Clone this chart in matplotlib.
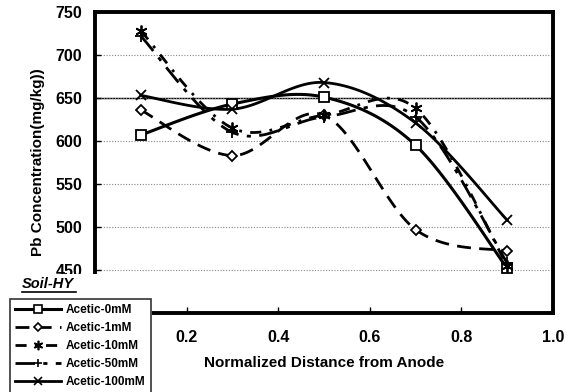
import numpy as np
import matplotlib
matplotlib.use("Agg")
import matplotlib.pyplot as plt
from matplotlib.patches import Rectangle
from matplotlib.lines import Line2D

plt.rcParams['font.family'] = ['Liberation Sans', 'DejaVu Sans']
plt.rcParams['font.weight'] = 'bold'

# data
distance = [0.1, 0.3, 0.5, 0.7, 0.9]
acetic_0mM = [607, 643, 651, 595, 452]
acetic_1mM = [636, 583, 630, 497, 472]
acetic_10mM = [728, 615, 630, 638, 455]
acetic_50mM = [722, 610, 628, 628, 458]
acetic_100mM = [653, 637, 668, 621, 508]
series_names = ['Acetic-0mM', 'Acetic-1mM', 'Acetic-10mM', 'Acetic-50mM', 'Acetic-100mM']
y_ticks = [450, 500, 550, 600, 650, 700, 750]
x_ticks = [0.2, 0.4, 0.6, 0.8, 1.0]


def smooth(x, y, n=30):
    # Catmull-Rom style smoothing, like Excel's smoothed lines
    x = np.asarray(x, float)
    y = np.asarray(y, float)
    px = np.concatenate([[x[0]], x, [x[-1]]])
    py = np.concatenate([[y[0]], y, [y[-1]]])
    xs, ys = [], []
    t = np.linspace(0, 1, n)
    for i in range(1, len(px) - 2):
        p0, p1, p2, p3 = [np.array([px[j], py[j]]) for j in (i - 1, i, i + 1, i + 2)]
        c1 = p1 + (p2 - p0) / 6
        c2 = p2 - (p3 - p1) / 6
        b = ((1 - t) ** 3)[:, None] * p1 + (3 * (1 - t) ** 2 * t)[:, None] * c1 \
            + (3 * (1 - t) * t ** 2)[:, None] * c2 + (t ** 3)[:, None] * p2
        xs.extend(b[:, 0])
        ys.extend(b[:, 1])
    return np.array(xs), np.array(ys)


styles = [
    dict(ls='-', lw=2.2, marker='s', ms=6.5, mfc='white'),
    dict(ls=(0, (5, 3)), lw=2.0, marker='D', ms=5, mfc='white'),
    dict(ls=(0, (4, 3, 1, 3)), lw=2.0, marker=(6, 2, 0), ms=8.5, mfc='black'),
    dict(ls=(0, (7, 3, 1.5, 3)), lw=2.0, marker='+', ms=8, mfc='black'),
    dict(ls='-', lw=2.0, marker='x', ms=7.5, mfc='black'),
]
values = [acetic_0mM, acetic_1mM, acetic_10mM, acetic_50mM, acetic_100mM]

fig = plt.figure(figsize=(5.66, 3.92), dpi=100)
ax = fig.add_axes([95 / 566, 1 - 313 / 392, 458 / 566, 301 / 392])

handles = []
for name, vals, st in zip(series_names, values, styles):
    sx, sy = smooth(distance, vals)
    ax.plot(sx, sy, color='black', ls=st['ls'], lw=st['lw'], zorder=3)
    ax.plot(distance, vals, ls='none', marker=st['marker'], ms=st['ms'],
            mfc=st['mfc'], mec='black', mew=1.3, zorder=4)
    handles.append(Line2D([], [], color='black', ls=st['ls'], lw=st['lw'],
                          marker=st['marker'], ms=st['ms'] * 0.8, mfc=st['mfc'],
                          mec='black', mew=1.2, label=name))

ax.set_xlim(0, 1.0)
ax.set_ylim(400, 750)
ax.set_xticks(x_ticks)
ax.set_xticklabels([f"{v:.1f}" for v in x_ticks])
ax.set_yticks(y_ticks)
ax.tick_params(axis='both', direction='in', labelsize=11.5, length=4, width=1)
ax.tick_params(axis='x', pad=12)
ax.tick_params(axis='y', pad=9)
for lab in ax.get_xticklabels() + ax.get_yticklabels():
    lab.set_fontweight('bold')

ax.yaxis.grid(True, color='#888888', ls=(0, (1, 1.5)), lw=0.8, zorder=1)
ax.axhline(650, color='black', lw=1.0, zorder=1)
for sp in ax.spines.values():
    sp.set_linewidth(2.8)

ax.set_xlabel('Normalized Distance from Anode', fontsize=11, fontweight='bold', labelpad=8)
ax.set_ylabel('Pb Concentration(mg/kg))', fontsize=11, fontweight='bold', labelpad=8)

# white patch over the lower-left corner
fig.add_artist(Rectangle((0, 0), 152 / 566, 1 - 274 / 392, transform=fig.transFigure,
                         facecolor='white', edgecolor='none', zorder=5))
fig.text(22 / 566, 1 - 284 / 392, 'Soil-HY', fontsize=10.5, fontweight='bold',
         style='italic', va='center', ha='left', zorder=6)
fig.add_artist(Line2D([22 / 566, 76 / 566], [1 - 292 / 392] * 2,
                      transform=fig.transFigure, color='black', lw=1.2, zorder=6))

leg = fig.legend(handles=handles, loc='upper left', bbox_to_anchor=(10 / 566, 1 - 299 / 392),
                 prop={'size': 8.5, 'weight': 'bold'}, frameon=True, fancybox=False,
                 edgecolor='black', handlelength=3.9, handletextpad=0.4,
                 labelspacing=0.5, borderpad=0.45, borderaxespad=0)
leg.get_frame().set_linewidth(1.2)
leg.set_zorder(7)

fig.savefig('out.png', dpi=100)
